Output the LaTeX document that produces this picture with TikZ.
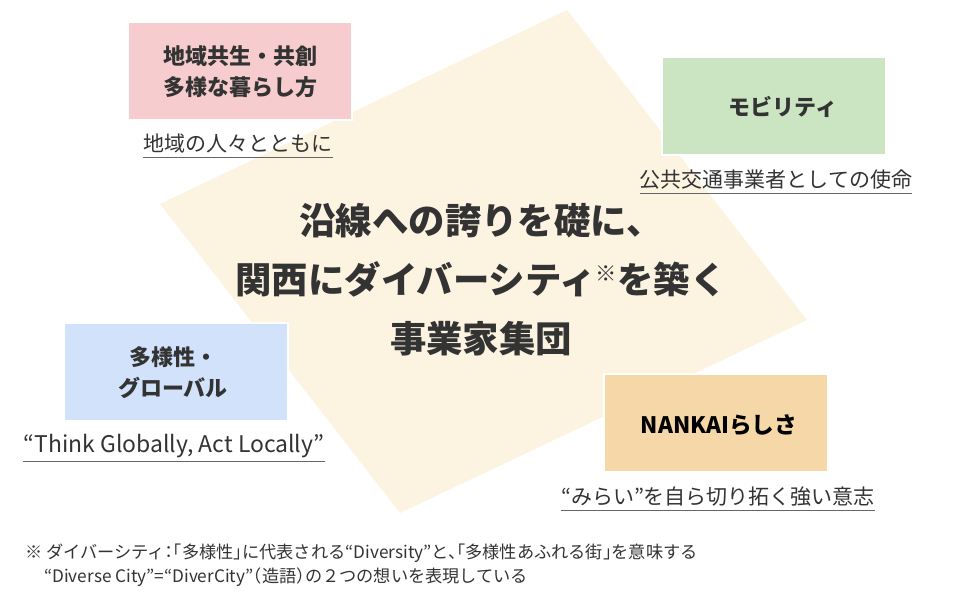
\documentclass[tikz,border=0pt]{standalone}
\usepackage{fontspec}
\setmainfont{Noto Sans CJK JP}
\newfontfamily\jphalt{Noto Sans CJK JP}[RawFeature=+halt]
\definecolor{txt}{HTML}{333333}
\definecolor{cream}{HTML}{FDF3E1}
\definecolor{pinkbox}{HTML}{F6CCCE}
\definecolor{greenbox}{HTML}{CBE4C2}
\definecolor{bluebox}{HTML}{D2E2FA}
\definecolor{orangebox}{HTML}{F6D8A8}
\definecolor{uline}{HTML}{666666}
\tikzset{
  theme/.style={draw=white, line width=1.5pt, minimum width=168pt, minimum height=73.5pt, inner sep=0pt},
  themetext/.style={text=txt, font=\fontsize{16.5pt}{23.25pt}\selectfont\bfseries, align=center, inner sep=0pt},
  motto/.style={text=txt, font=\fontsize{15.75pt}{18pt}\selectfont, inner sep=0pt},
  underl/.style={draw=uline, line width=1pt},
  note/.style={text=txt, font=\jphalt\fontsize{12.9pt}{14pt}\selectfont, inner sep=0pt, anchor=west}
}
\begin{document}
\begin{tikzpicture}[x=0.75pt, y=-0.75pt]
\useasboundingbox[fill=white] (0,0) rectangle (960,600);
% background parallelogram
\fill[cream] (567,10) -- (807,320) -- (400,513) -- (160,204) -- cycle;
% central text
\node[text=txt, font=\fontsize{27.3pt}{44.25pt}\selectfont\bfseries, align=center, inner sep=0pt] (core) at (481,280)
  {沿線への誇りを礎に、\\関西にダイバーシティ\raisebox{0.35em}{\fontsize{16pt}{16pt}\selectfont ※}を築く\\事業家集団};
% theme boxes
\node[theme, fill=pinkbox] (pink) at (240,71) {};
\node[themetext] (pinkt) at (240,72) {地域共生・共創\\多様な暮らし方};
\node[theme, fill=greenbox] (green) at (774,106) {};
\node[themetext] (greent) at (783,107) {モビリティ};
\node[theme, fill=bluebox] (blue) at (176,372) {};
\node[themetext] (bluet) at (173,373) {多様性・\\グローバル};
\node[theme, fill=orangebox] (orange) at (716,423) {};
\node[themetext, text=black] (oranget) at (719,425) {\fontsize{17pt}{20pt}\selectfont NANKAIらしさ};
% mottos
\node[motto] (m1) at (238,144) {地域の人々とともに};
\draw[underl] ([yshift=-2.5pt]m1.south west) -- ([yshift=-2.5pt]m1.south east);
\node[motto] (m2) at (776,180) {公共交通事業者としての使命};
\draw[underl] ([yshift=-2.5pt]m2.south west) -- ([yshift=-2.5pt]m2.south east);
\node[motto, font=\fontsize{17.2pt}{19pt}\selectfont] (m3) at (174,446) {“Think Globally, Act Locally”};
\draw[underl] ([yshift=-2.5pt]m3.south west) -- ([yshift=-2.5pt]m3.south east);
\node[motto] (m4) at (718,497) {“みらい”を自ら切り拓く強い意志};
\draw[underl] ([yshift=-2.5pt]m4.south west) -- ([yshift=-2.5pt]m4.south east);
% footnote
\node[note] (fn1) at (25,553) {※ ダイバーシティ：「多様性」に代表される“Diversity”と、「多様性あふれる街」を意味する};
\node[note] (fn2) at (44,577) {“Diverse City”=“DiverCity”（造語）の２つの想いを表現している};
\end{tikzpicture}
\end{document}
